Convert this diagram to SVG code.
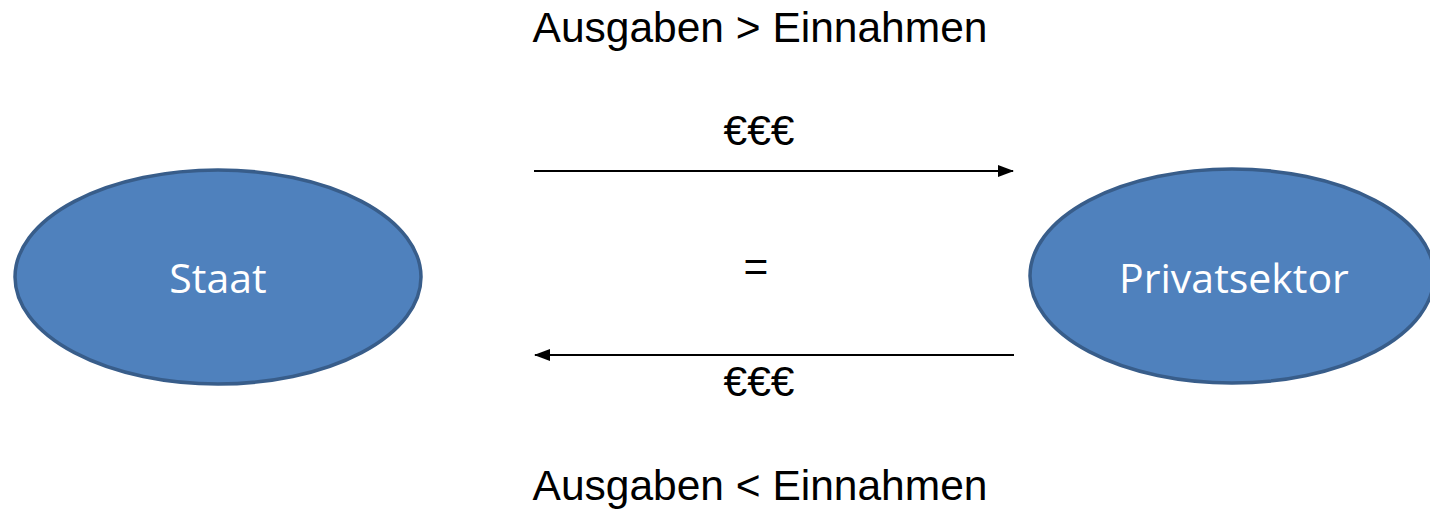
<svg xmlns="http://www.w3.org/2000/svg" width="1430" height="509" viewBox="0 0 1430 509">
<style>
.node{fill:#4f81bd;stroke:#385d8a;stroke-width:3.5}
.nl{font-family:"Open Sans","Noto Sans",sans-serif;font-size:41px;fill:#ffffff;text-anchor:middle}
.t{font-family:"Liberation Sans",Arial,sans-serif;font-size:42.5px;fill:#000000;text-anchor:middle}
.c{stroke:#000000;stroke-width:2;fill:none}
</style>
<defs>
<marker id="ah" viewBox="0 0 16 12" refX="15" refY="6" markerWidth="16" markerHeight="12" markerUnits="userSpaceOnUse" orient="auto">
<path d="M0,0 L16,6 L0,12 Z" fill="#000000"/>
</marker>
</defs>
<rect width="1430" height="509" fill="#ffffff"/>
<g id="labels">
<text class="t" x="760" y="42">Ausgaben &gt; Einnahmen</text>
<text class="t" x="759" y="145">€€€</text>
<text class="t" x="756" y="281">=</text>
<text class="t" x="759" y="396">€€€</text>
<text class="t" x="760" y="500">Ausgaben &lt; Einnahmen</text>
</g>
<g id="connectors">
<line class="c" x1="534" y1="171" x2="1013" y2="171" marker-end="url(#ah)"/>
<line class="c" x1="1014" y1="355" x2="535" y2="355" marker-end="url(#ah)"/>
</g>
<g id="staat">
<ellipse class="node" cx="218" cy="277" rx="203" ry="107"/>
<text class="nl" x="218" y="293">Staat</text>
</g>
<g id="privatsektor">
<ellipse class="node" cx="1232" cy="276" rx="202" ry="107"/>
<text class="nl" x="1234" y="293">Privatsektor</text>
</g>
</svg>
